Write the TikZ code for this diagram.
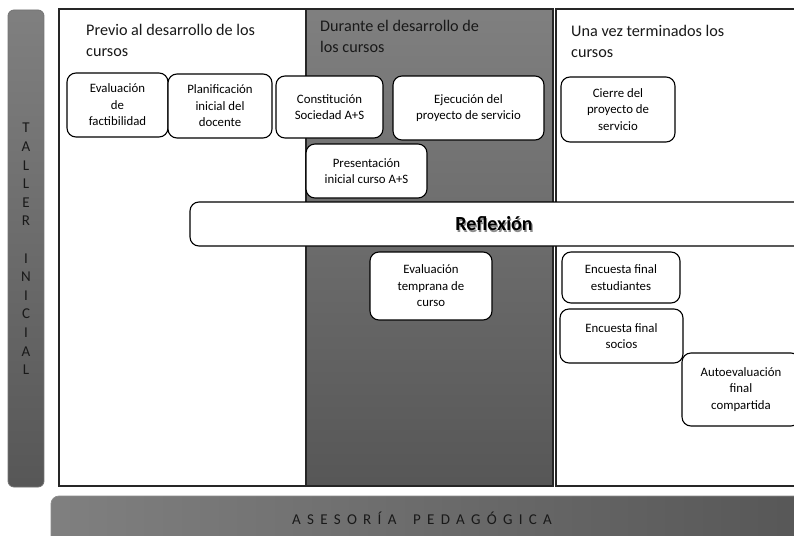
\documentclass[tikz,border=0pt]{standalone}
\usepackage{fontspec}
\setmainfont{Carlito}
\begin{document}
\begin{tikzpicture}[x=1pt,y=-1pt,
  stepbox/.style={draw=black, fill=white, rounded corners=9pt, line width=1.1pt,
    align=center, inner sep=0pt, font=\fontsize{12.8}{16.5}\selectfont},
  colframe/.style={draw=black!85, line width=1.1pt},
  header/.style={anchor=north west, align=left, inner sep=0pt, font=\fontsize{16.2}{21}\selectfont, text=black!90}
]
\useasboundingbox (0,0) rectangle (794,535);
\begin{scope}
\clip (0,0) rectangle (794,535);
% left bar
\shade[top color=black!50, bottom color=black!66, rounded corners=6pt] (8,10) rectangle (44,487);
\draw[black!55, line width=0.8pt, rounded corners=6pt] (8,10) rectangle (44,487);
\node[align=center, inner sep=0pt, font=\fontsize{15}{18.6}\selectfont, text=black!90] (taller) at (26,249)
  {T\\A\\L\\L\\E\\R\\[18.6pt]I\\N\\I\\C\\I\\A\\L};
% columns
\fill[white] (59,9) rectangle (306,486);
\draw[colframe] (59,9) rectangle (306,486);
\shade[top color=black!50, bottom color=black!66] (306,9) rectangle (553,486);
\draw[colframe] (306,9) rectangle (553,486);
\fill[white] (556,9) rectangle (810,486);
\draw[colframe] (556,9) rectangle (810,486);
% headers
\node[header] (h1) at (86,24) {Previo al desarrollo de los\\cursos};
\node[header] (h2) at (320,20) {Durante el desarrollo de\\los cursos};
\node[header] (h3) at (571,25) {Una vez terminados los\\cursos};
% boxes
\node[stepbox, minimum width=101pt, minimum height=64pt] (evf) at (117.5,105) {Evaluación\\de\\factibilidad};
\node[stepbox, minimum width=104pt, minimum height=64pt] (plan) at (220,106) {Planificación\\inicial del\\docente};
\node[stepbox, minimum width=107pt, minimum height=62pt] (const) at (329.5,107) {Constitución\\Sociedad A+S};
\node[stepbox, minimum width=151pt, minimum height=64pt] (ejec) at (468.5,108) {Ejecución del\\proyecto de servicio};
\node[stepbox, minimum width=121pt, minimum height=54pt] (pres) at (366.5,171) {Presentación\\inicial curso A+S};
\node[stepbox, minimum width=114pt, minimum height=65pt] (cierre) at (618,109.5) {Cierre del\\proyecto de\\servicio};
% reflexion bar
\node[draw=black, fill=white, rounded corners=9pt, line width=1.1pt, minimum width=630pt, minimum height=44pt, inner sep=0pt] (refl) at (505,224) {};
\node[font=\bfseries\fontsize{20}{22}\selectfont, text=black!45, inner sep=0pt] (reflsh) at (495.2,225.2) {Reflexión};
\node[font=\bfseries\fontsize{20}{22}\selectfont, text=black, inner sep=0pt] (refltxt) at (494,224) {Reflexión};
% lower boxes
\node[stepbox, minimum width=122pt, minimum height=68pt] (evt) at (431,286) {Evaluación\\temprana de\\curso};
\node[stepbox, minimum width=118pt, minimum height=51pt] (encest) at (621,277.5) {Encuesta final\\estudiantes};
\node[stepbox, minimum width=123pt, minimum height=54pt] (encsoc) at (621.5,336) {Encuesta final\\socios};
\node[stepbox, minimum width=118pt, minimum height=73pt] (auto) at (741,389.5) {Autoevaluación\\final\\compartida};
% bottom bar
\shade[left color=black!50, right color=black!66, rounded corners=8pt] (51,496) rectangle (810,550);
\draw[black!45, line width=0.8pt, rounded corners=8pt] (51,496) rectangle (810,550);
\node[font=\fontsize{15}{17}\selectfont\addfontfeature{LetterSpace=42}, text=black!90, inner sep=0pt] (ases) at (422,518) {ASESORÍA\hspace{7pt} PEDAGÓGICA};
\end{scope}
\end{tikzpicture}
\end{document}
